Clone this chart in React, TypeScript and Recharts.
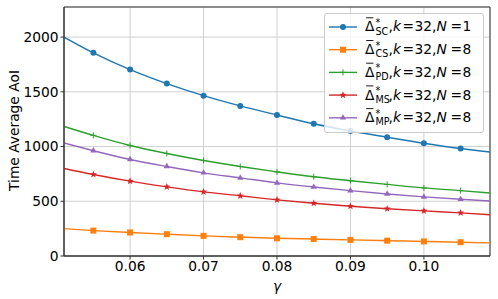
import React from 'react'
import { LineChart, Line, XAxis, YAxis, CartesianGrid, Legend, ReferenceArea, Label } from 'recharts'

// gamma samples; markers only drawn on the inner ones
const gamma = [0.051, 0.055, 0.06, 0.065, 0.07, 0.075, 0.08, 0.085, 0.09, 0.095, 0.1, 0.105, 0.109]
const marked = [false, true, true, true, true, true, true, true, true, true, true, true, false]

const sc = [2000, 1856, 1703, 1575, 1465, 1371, 1288, 1208, 1142, 1085, 1030, 982, 950]
const cs = [250, 232, 215, 199, 184, 172, 162, 155, 147, 140, 133, 126, 120]
const pd = [1184, 1102, 1010, 937, 873, 818, 769, 724, 688, 654, 622, 597, 576]
const ms = [800, 745, 684, 632, 586, 550, 513, 482, 455, 432, 412, 394, 377]
const mp = [1032, 962, 882, 818, 760, 714, 668, 630, 597, 567, 540, 518, 503]

const xTicks = [0.06, 0.07, 0.08, 0.09, 0.1]
const yTicks = [0, 500, 1000, 1500, 2000]

const data = gamma.map((g, i) => ({ g, mark: marked[i], sc: sc[i], cs: cs[i], pd: pd[i], ms: ms[i], mp: mp[i] }))

type Shape = 'circle' | 'square' | 'plus' | 'star' | 'triangle'

const series: { key: string; color: string; shape: Shape; sub: string; n: number }[] = [
  { key: 'sc', color: '#1f77b4', shape: 'circle', sub: 'SC', n: 1 },
  { key: 'cs', color: '#ff7f0e', shape: 'square', sub: 'CS', n: 8 },
  { key: 'pd', color: '#2ca02c', shape: 'plus', sub: 'PD', n: 8 },
  { key: 'ms', color: '#d62728', shape: 'star', sub: 'MS', n: 8 },
  { key: 'mp', color: '#9467bd', shape: 'triangle', sub: 'MP', n: 8 },
]

const FONT = '"DejaVu Sans", sans-serif'

function Marker({ shape, cx, cy, color }: { shape: Shape; cx: number; cy: number; color: string }) {
  if (shape === 'circle') return <circle cx={cx} cy={cy} r={3} fill={color} />
  if (shape === 'square') return <rect x={cx - 3} y={cy - 3} width={6} height={6} fill={color} />
  if (shape === 'plus')
    return (
      <path d={`M${cx - 3},${cy}H${cx + 3}M${cx},${cy - 3}V${cy + 3}`} stroke={color} strokeWidth={1} fill="none" />
    )
  if (shape === 'triangle') {
    const r = 3.6
    return <polygon points={`${cx},${cy - r} ${cx + r * 0.87},${cy + r * 0.5} ${cx - r * 0.87},${cy + r * 0.5}`} fill={color} />
  }
  const pts: string[] = []
  for (let k = 0; k < 10; k++) {
    const r = k % 2 === 0 ? 3.8 : 1.6
    const a = -Math.PI / 2 + (k * Math.PI) / 5
    pts.push(`${cx + r * Math.cos(a)},${cy + r * Math.sin(a)}`)
  }
  return <polygon points={pts.join(' ')} fill={color} />
}

const makeDot = (shape: Shape, color: string) => (props: any) => {
  const { cx, cy, payload, index } = props
  if (!payload?.mark) return <g key={index} />
  return <Marker key={index} shape={shape} cx={cx} cy={cy} color={color} />
}

// legend drawn in box-relative coordinates
const LegendBox = () => (
  <div
    style={{
      position: 'relative',
      background: 'rgba(255,255,255,0.8)',
      border: '1px solid #cccccc',
      borderRadius: 3,
      boxSizing: 'border-box',
      width: 160,
      height: 120,
    }}
  >
    <svg width={160} height={120} style={{ position: 'absolute', left: -1, top: -1 }}>
      {series.map((s, i) => {
        const cy = 14 + i * 22.7
        const base = cy + 4.4
        const t = 41
        return (
          <g key={s.key} fontFamily={FONT} fontSize={13.8} fill="#000">
            <line x1={5} y1={cy} x2={33} y2={cy} stroke={s.color} strokeWidth={1.4} />
            <Marker shape={s.shape} cx={19} cy={cy} color={s.color} />
            <text x={t} y={base}>Δ</text>
            <line x1={t + 1.2} y1={base - 13.6} x2={t + 8.4} y2={base - 13.6} stroke="#000" strokeWidth={0.9} />
            <text x={t + 10.5} y={base - 5.5} fontSize={9.6}>*</text>
            <text x={t + 10.5} y={base + 3.2} fontSize={9.6}>{s.sub}</text>
            <text x={t + 23.5} y={base}>,</text>
            <text x={t + 28} y={base} fontStyle="italic">k</text>
            <text x={t + 37.5} y={base}>=</text>
            <text x={t + 49.5} y={base}>32</text>
            <text x={t + 67} y={base}>,</text>
            <text x={t + 71.5} y={base} fontStyle="italic">N</text>
            <text x={t + 85.5} y={base}>=</text>
            <text x={t + 97.5} y={base}>{s.n}</text>
          </g>
        )
      })}
    </svg>
  </div>
)

const renderYLabel = (props: any) => {
  const vb = props.viewBox || { y: 7, height: 249 }
  const cy = vb.y + vb.height / 2 - 1
  return (
    <text
      x={14}
      y={cy}
      transform={`rotate(-90 14 ${cy})`}
      textAnchor="middle"
      dominantBaseline="central"
      fontFamily={FONT}
      fontSize={13.8}
      fill="#000"
    >
      Time Average AoI
    </text>
  )
}

export default function App() {
  return (
    <div style={{ position: 'absolute', left: 0, top: 0, background: '#fff' }}>
      <LineChart width={498} height={299} data={data} margin={{ top: 7, right: 8, bottom: 0, left: 0 }}>
        <CartesianGrid stroke="#d0d0d0" strokeWidth={1} />
        <XAxis
          dataKey="g"
          type="number"
          domain={[0.051, 0.109]}
          ticks={xTicks}
          allowDataOverflow
          height={43}
          tickFormatter={(v: number) => v.toFixed(2)}
          tick={{ fontFamily: FONT, fontSize: 13.8, fill: '#000' }}
          tickSize={3.5}
          tickMargin={2}
          stroke="#333"
          tickLine={{ stroke: '#333' }}
        >
          <Label value="γ" position="insideBottom" offset={8} style={{ fontFamily: FONT, fontSize: 13.8, fontStyle: 'italic', fill: '#000' }} />
        </XAxis>
        <YAxis
          type="number"
          domain={[0, 2275]}
          ticks={yTicks}
          allowDataOverflow
          width={64}
          tick={{ fontFamily: FONT, fontSize: 13.8, fill: '#000' }}
          tickSize={3.5}
          tickMargin={2}
          stroke="#333"
          tickLine={{ stroke: '#333' }}
        >
          <Label content={renderYLabel} />
        </YAxis>
        <ReferenceArea x1={0.051} x2={0.109} y1={0} y2={2275} fill="none" stroke="#333" strokeWidth={1} />
        {series.map((s) => (
          <Line
            key={s.key}
            dataKey={s.key}
            type="monotone"
            stroke={s.color}
            strokeWidth={1.4}
            dot={makeDot(s.shape, s.color)}
            activeDot={false}
            isAnimationActive={false}
          />
        ))}
        <Legend
          layout="vertical"
          align="center"
          verticalAlign="middle"
          content={() => <LegendBox />}
          wrapperStyle={{ left: 324, top: 13, width: 160, height: 120 }}
        />
      </LineChart>
    </div>
  )
}
